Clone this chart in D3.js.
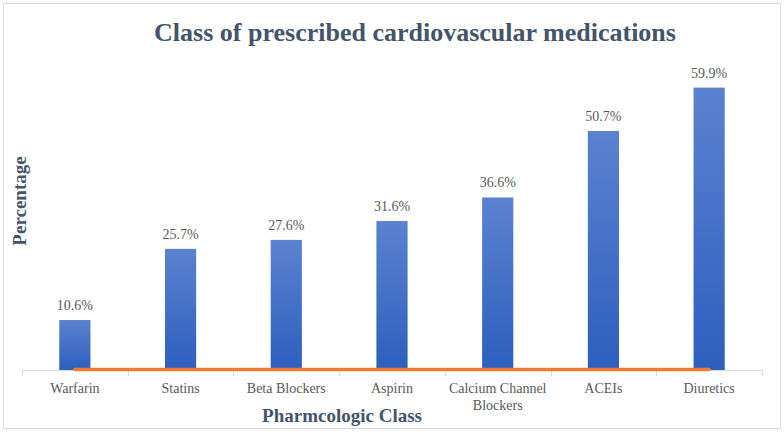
<!DOCTYPE html>
<html><head><meta charset="utf-8">
<script src="https://cdn.jsdelivr.net/npm/d3@7"></script>
<style>body{margin:0;background:#fff}svg{display:block}</style>
</head><body>
<svg id="c" width="784" height="432"></svg>
<script>
const categories = ["Warfarin","Statins","Beta Blockers","Aspirin","Calcium Channel Blockers","ACEIs","Diuretics"];
const percentages = [10.6,25.7,27.6,31.6,36.6,50.7,59.9];
const lineValues = [0,0,0,0,0,0,0];
const labelLines = [["Warfarin"],["Statins"],["Beta Blockers"],["Aspirin"],["Calcium Channel","Blockers"],["ACEIs"],["Diuretics"]];

const svg = d3.select("#c");
const W=784,H=432;
const m={left:22,right:22,top:40,bottom:62};
const x=d3.scaleBand().domain(categories).range([22,762]).paddingInner(0.705).paddingOuter(0.3525);
const y=d3.scaleLinear().domain([0,70]).range([370,40]);
const font="'Liberation Serif','Times New Roman',serif";

svg.append("rect").attr("x",3.5).attr("y",3.5).attr("width",777).attr("height",425).attr("fill","#fff").attr("stroke","#d9d9d9");

const defs=svg.append("defs");
const g=defs.append("linearGradient").attr("id","bg").attr("x1",0).attr("y1",0).attr("x2",0).attr("y2",1);
g.append("stop").attr("offset","0%").attr("stop-color","#5b82d0");
g.append("stop").attr("offset","100%").attr("stop-color","#2d5fbe");

// title
svg.append("text").attr("x",415).attr("y",41).attr("text-anchor","middle").attr("font-family",font)
  .attr("font-weight","bold").attr("font-size",26).attr("fill","#44546a").text("Class of prescribed cardiovascular medications");

// axis line and ticks
const band=d3.scaleBand().domain(categories).range([22,762]);
svg.append("line").attr("x1",22).attr("x2",762).attr("y1",370.5).attr("y2",370.5).attr("stroke","#d9d9d9");
const bounds=categories.map(c=>band(c)).concat([762]);
svg.selectAll(".tk").data(bounds).enter().append("line").attr("x1",d=>Math.round(d)+0.5).attr("x2",d=>Math.round(d)+0.5)
  .attr("y1",370).attr("y2",376).attr("stroke","#d9d9d9");

// bars
svg.selectAll(".bar").data(categories).enter().append("rect")
  .attr("x",d=>x(d)).attr("width",x.bandwidth())
  .attr("y",(d,i)=>y(percentages[i])).attr("height",(d,i)=>y(0)-y(percentages[i]))
  .attr("fill","url(#bg)");

// value labels
svg.selectAll(".vl").data(categories).enter().append("text")
  .attr("x",d=>x(d)+x.bandwidth()/2).attr("y",(d,i)=>y(percentages[i])-10)
  .attr("text-anchor","middle").attr("font-family",font).attr("font-size",14).attr("fill","#595959")
  .text((d,i)=>percentages[i].toFixed(1)+"%");

// orange line
const line=d3.line().x((d,i)=>x(categories[i])+x.bandwidth()/2).y(d=>y(d)-0.5);
svg.append("path").datum(lineValues).attr("d",line).attr("fill","none").attr("stroke","#ed7d31").attr("stroke-width",3.5).attr("stroke-linecap","round");

// category labels
categories.forEach((c,i)=>{
  const t=svg.append("text").attr("x",band(c)+band.bandwidth()/2).attr("y",393).attr("text-anchor","middle")
    .attr("font-family",font).attr("font-size",14).attr("fill","#595959");
  labelLines[i].forEach((l,j)=>t.append("tspan").attr("x",band(c)+band.bandwidth()/2).attr("dy",j?17:0).text(l));
});

// axis titles
svg.append("text").attr("x",342).attr("y",422).attr("text-anchor","middle").attr("font-family",font)
  .attr("font-weight","bold").attr("font-size",19).attr("fill","#44546a").text("Pharmcologic Class");
svg.append("text").attr("transform","translate(26,201) rotate(-90)").attr("text-anchor","middle").attr("font-family",font)
  .attr("font-weight","bold").attr("font-size",19).attr("fill","#44546a").text("Percentage");
</script>
</body></html>
